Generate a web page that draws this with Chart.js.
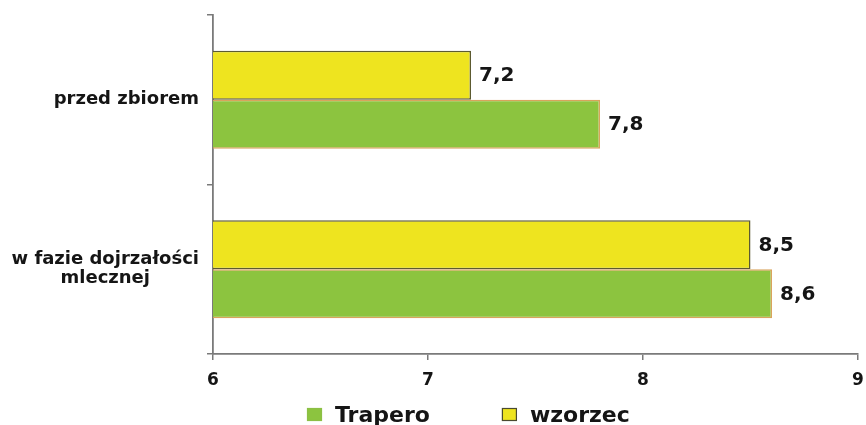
<!DOCTYPE html>
<html>
<head>
<meta charset="utf-8">
<script src="https://cdn.jsdelivr.net/npm/chart.js@4/dist/chart.umd.min.js"></script>
<style>
  html, body { margin: 0; padding: 0; background: #ffffff; }
  #wrap { width: 866px; height: 425px; }
</style>
</head>
<body>
<div id="wrap"><canvas id="c" width="866" height="425"></canvas></div>
<script>
const categories = [["przed zbiorem"], ["w fazie dojrzałości", "mlecznej"]];
const seriesNames = ["wzorzec", "Trapero"];
const wzorzecValues = [7.2, 8.5];
const traperoValues = [7.8, 8.6];
const xTicks = [6, 7, 8, 9];

const FONT = "'DejaVu Sans', 'Liberation Sans', Arial, sans-serif";
const YELLOW = "#eee41f";
const GREEN = "#8cc43f";

const valueLabels = {
  id: "valueLabels",
  afterDatasetsDraw(chart) {
    const ctx = chart.ctx;
    ctx.save();
    ctx.font = "bold 20px " + FONT;
    ctx.fillStyle = "#151515";
    ctx.textAlign = "left";
    ctx.textBaseline = "middle";
    chart.data.datasets.forEach((ds, di) => {
      const meta = chart.getDatasetMeta(di);
      meta.data.forEach((el, i) => {
        const txt = String(ds.data[i]).replace(".", ",");
        ctx.fillText(txt, el.x + 8, el.y + 1);
      });
    });
    ctx.restore();
  }
};

const categoryLabels = {
  id: "categoryLabels",
  afterDraw(chart) {
    const ctx = chart.ctx;
    const yScale = chart.scales.y;
    ctx.save();
    ctx.font = "bold 18px " + FONT;
    ctx.fillStyle = "#151515";
    ctx.textAlign = "center";
    ctx.textBaseline = "middle";
    const lh = 19;
    chart.data.labels.forEach((lines, i) => {
      const arr = Array.isArray(lines) ? lines : [lines];
      const widest = Math.max(...arr.map(l => ctx.measureText(l).width));
      const cx = yScale.right - 14 - widest / 2;
      const cy = yScale.getPixelForValue(i);
      const y0 = cy - (arr.length - 1) * lh / 2;
      arr.forEach((l, k) => ctx.fillText(l, cx, y0 + k * lh));
    });
    ctx.restore();
  }
};

const bottomLegend = {
  id: "bottomLegend",
  afterDraw(chart) {
    const ctx = chart.ctx;
    const area = chart.chartArea;
    ctx.save();
    ctx.font = "bold 22px " + FONT;
    ctx.textBaseline = "middle";
    ctx.textAlign = "left";
    const order = [1, 0];
    let x = area.left + 94;
    const y = 415;
    order.forEach(di => {
      const ds = chart.data.datasets[di];
      ctx.fillStyle = ds.backgroundColor;
      ctx.fillRect(x, y - 7, 15, 13);
      ctx.strokeStyle = ds.legendBorder;
      ctx.lineWidth = 1.2;
      ctx.strokeRect(x + 0.5, y - 6.5, 14, 12);
      ctx.fillStyle = "#151515";
      ctx.fillText(ds.label, x + 28, y + 1);
      x += 28 + ctx.measureText(ds.label).width + 72;
    });
    ctx.restore();
  }
};

new Chart(document.getElementById("c"), {
  type: "bar",
  data: {
    labels: categories,
    datasets: [
      {
        label: seriesNames[0],
        data: wzorzecValues,
        backgroundColor: YELLOW,
        borderColor: "#5c5a30",
        legendBorder: "#4a4a30",
        borderWidth: 1.5,
        borderSkipped: false
      },
      {
        label: seriesNames[1],
        data: traperoValues,
        backgroundColor: GREEN,
        borderColor: "#d9a45c",
        legendBorder: "#8cbf45",
        borderWidth: 1.5,
        borderSkipped: false
      }
    ]
  },
  options: {
    indexAxis: "y",
    responsive: false,
    animation: false,
    datasets: { bar: { categoryPercentage: 0.578, barPercentage: 1.0 } },
    layout: { padding: { left: 0, right: 8, top: 15, bottom: 0 } },
    plugins: {
      legend: { display: false },
      tooltip: { enabled: false }
    },
    scales: {
      x: {
        type: "linear",
        min: xTicks[0],
        max: xTicks[xTicks.length - 1],
        afterBuildTicks(scale) { scale.ticks = xTicks.map(v => ({ value: v })); },
        afterFit(scale) {
          scale.height = 71;
          scale.paddingLeft = 0;
          scale.paddingRight = 0;
        },
        grid: { display: true, drawOnChartArea: false, tickLength: 6, color: "#7a7a7a", lineWidth: 1.5 },
        border: { display: true, color: "#7a7a7a", width: 1.8 },
        ticks: {
          padding: 10,
          color: "#151515",
          font: { family: FONT, size: 17, weight: "bold" }
        }
      },
      y: {
        afterFit(scale) { scale.width = 213; },
        grid: { display: true, drawOnChartArea: false, offset: true, tickLength: 6, color: "#7a7a7a", lineWidth: 1.5 },
        border: { display: true, color: "#7a7a7a", width: 1.8 },
        ticks: { display: false }
      }
    }
  },
  plugins: [valueLabels, categoryLabels, bottomLegend]
});
</script>
</body>
</html>
